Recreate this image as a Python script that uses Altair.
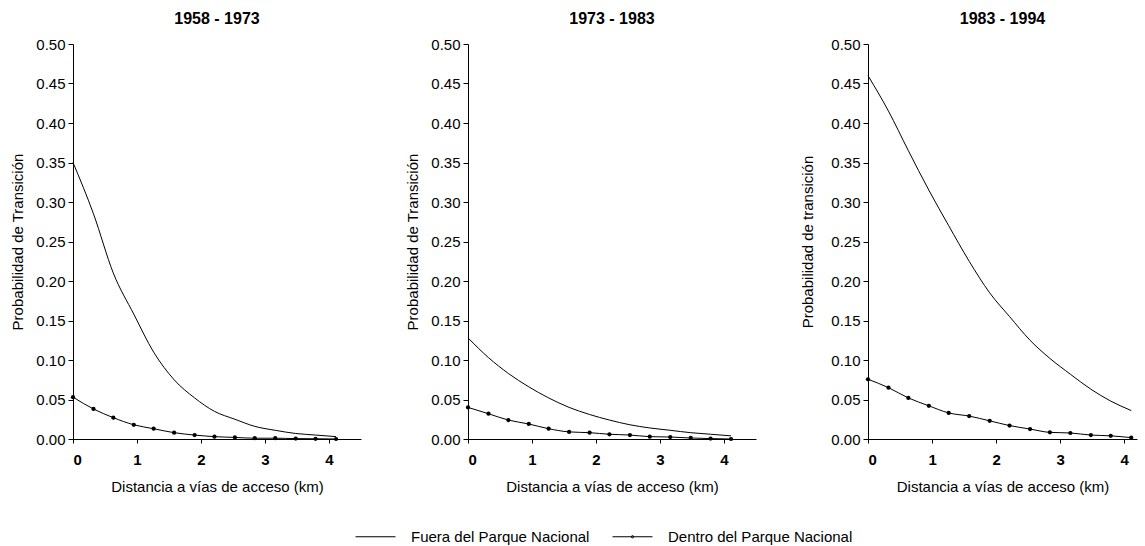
import altair as alt
import pandas as pd

periods = ["1958 - 1973", "1973 - 1983", "1983 - 1994"]
y_titles = ["Probabilidad de Transición", "Probabilidad de Transición", "Probabilidad de transición"]
x_max = [4.5, 4.5, 4.2]
series = ["Fuera del Parque Nacional", "Dentro del Parque Nacional"]

km = [0, 0.32, 0.63, 0.95, 1.26, 1.58, 1.9, 2.21, 2.53, 2.84, 3.16, 3.48, 3.79, 4.11]

fuera_1 = [0.35, 0.285, 0.21, 0.158, 0.11, 0.075, 0.052, 0.035, 0.025, 0.016, 0.011, 0.007, 0.005, 0.003]
dentro_1 = [0.053, 0.038, 0.027, 0.018, 0.013, 0.008, 0.005, 0.003, 0.002, 0.001, 0.001, 0.0005, 0.0003, 0.0]

fuera_2 = [0.128, 0.103, 0.083, 0.066, 0.052, 0.040, 0.031, 0.024, 0.018, 0.014, 0.011, 0.008, 0.006, 0.004]
dentro_2 = [0.040, 0.032, 0.024, 0.019, 0.013, 0.009, 0.008, 0.006, 0.005, 0.003, 0.0025, 0.0013, 0.0005, 0.0]

fuera_3 = [0.46, 0.415, 0.365, 0.315, 0.27, 0.225, 0.185, 0.155, 0.125, 0.102, 0.082, 0.063, 0.048, 0.036]
dentro_3 = [0.0756, 0.065, 0.052, 0.042, 0.033, 0.029, 0.023, 0.017, 0.0126, 0.0084, 0.0076, 0.005, 0.004, 0.0017]

fuera = [fuera_1, fuera_2, fuera_3]
dentro = [dentro_1, dentro_2, dentro_3]

FONT = "Liberation Sans"
Y_TITLE_PAD = [10, 10, 15]

legend_paths = [
    "M-1,0L1,0",
    "M-1,0L1,0M0.06,0A0.06,0.06,0,1,1,-0.06,0A0.06,0.06,0,1,1,0.06,0Z",
]

panels = []
for i, p in enumerate(periods):
    rows = []
    for k, v in zip(km, fuera[i]):
        rows.append({"km": k, "prob": v, "serie": series[0]})
    for k, v in zip(km, dentro[i]):
        rows.append({"km": k, "prob": v, "serie": series[1]})
    df = pd.DataFrame(rows)

    w = round(x_max[i] * 64)
    xenc = alt.X(
        "km:Q",
        scale=alt.Scale(domain=[0, x_max[i]], nice=False, zero=True),
        axis=alt.Axis(
            title="Distancia a vías de acceso (km)",
            values=[0, 1, 2, 3, 4],
            format="d",
            grid=False,
            tickSize=4,
            labelFontSize=15,
            labelFontWeight="bold",
            titleFontSize=15,
            titleFontWeight="normal",
            titlePadding=12,
            labelPadding=9,
        ),
    )
    yenc = alt.Y(
        "prob:Q",
        scale=alt.Scale(domain=[0, 0.5], nice=False),
        axis=alt.Axis(
            title=y_titles[i],
            values=[0, 0.05, 0.1, 0.15, 0.2, 0.25, 0.3, 0.35, 0.4, 0.45, 0.5],
            format=".2f",
            grid=False,
            tickSize=5,
            labelFontSize=15,
            titleFontSize=15,
            titleFontWeight="normal",
            titlePadding=Y_TITLE_PAD[i],
            labelPadding=3,
        ),
    )

    base = alt.Chart(df)
    line = base.mark_line(strokeWidth=1, interpolate="monotone", color="black").encode(
        x=xenc,
        y=yenc,
        detail="serie:N",
    )
    pts = (
        base.transform_filter(alt.datum.serie == series[1])
        .mark_point(filled=True, size=18, color="black", opacity=1)
        .encode(x=xenc, y=yenc)
    )
    layers = [line, pts]
    if i == 0:
        leg_layer = base.mark_point(filled=False, color="black", opacity=0, strokeWidth=1).encode(
            x=xenc,
            y=yenc,
            shape=alt.Shape(
                "serie:N",
                scale=alt.Scale(domain=series, range=legend_paths),
                legend=alt.Legend(
                    orient="none",
                    legendX=282,
                    legendY=472,
                    direction="horizontal",
                    title=None,
                    labelFontSize=15,
                    labelFont=FONT,
                    symbolSize=1600,
                    symbolStrokeWidth=1,
                    symbolStrokeColor="black",
                    symbolOpacity=1,
                    labelOffset=15,
                    columnPadding=20,
                    labelLimit=400,
                ),
            ),
        )
        layers.append(leg_layer)
    panel = alt.layer(*layers).properties(
        width=w,
        height=395,
        title=alt.TitleParams(p, fontSize=16, fontWeight="bold", font=FONT, offset=10),
    )
    panels.append(panel)

chart = (
    alt.hconcat(*panels, spacing=44)
    .configure(font=FONT)
    .configure_view(stroke=None)
    .configure_axis(
        domainColor="black",
        tickColor="black",
        labelColor="black",
        titleColor="black",
        labelFont=FONT,
        titleFont=FONT,
    )
    .properties(padding={"left": 10, "top": 11, "right": 4, "bottom": 5})
)

chart.save("out.html", embed_options={"renderer": "svg", "actions": False})
